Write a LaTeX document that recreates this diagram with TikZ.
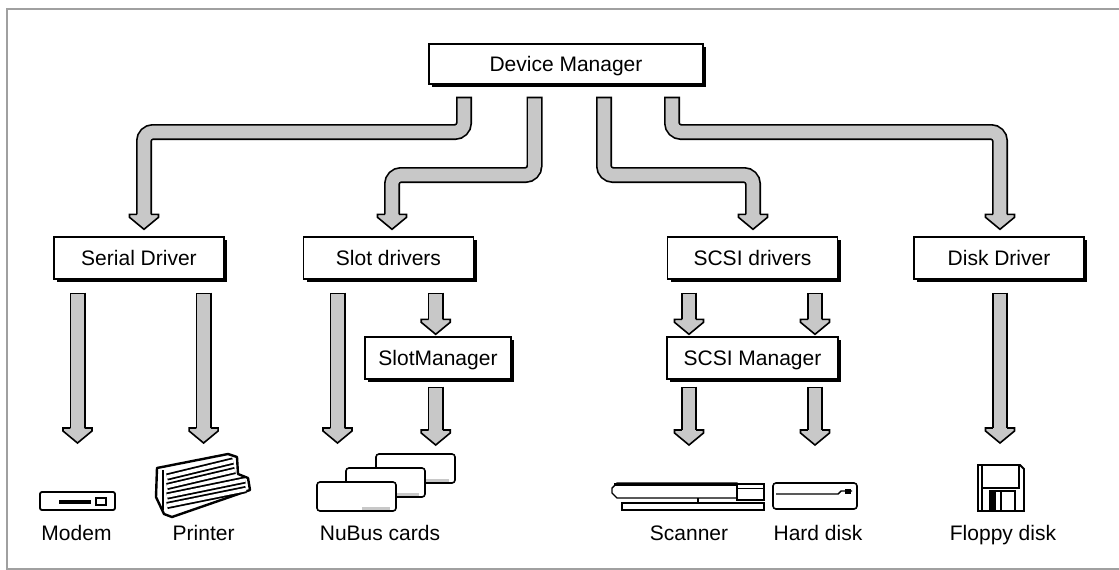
\documentclass[tikz,border=0pt]{standalone}
\usepackage{fontspec}
\setmainfont{Liberation Sans}
\usetikzlibrary{calc,shadows}
\definecolor{pipegray}{RGB}{200,200,200}
\definecolor{framegray}{RGB}{160,160,160}
\tikzset{
  box/.style={draw, line width=1.4pt, fill=white, inner sep=0pt, minimum height=42pt,
    text height=15pt, text depth=0pt, font=\fontsize{21}{25}\selectfont,
    drop shadow={shadow xshift=3pt, shadow yshift=-3pt, fill=black, opacity=1}},
  lbl/.style={inner sep=0pt, anchor=base, font=\fontsize{21}{25}\selectfont},
  icon/.style={line width=1.4pt, fill=white},
  pipe/.style={draw=pipegray, line width=12.6pt, rounded corners=9pt,
    shorten <=1.7pt, shorten >=13pt,
    preaction={draw=black, line width=16pt, shorten <=0pt}},
  head/.pic={
    \fill[pipegray] (-14.5,-15) -- (14.5,-15) -- (14.5,-12) -- (0,0) -- (-14.5,-12) -- cycle;
    \draw[line width=1.6pt, line join=miter] (-7.2,-15) -- (-14.5,-15) -- (-14.5,-12)
      -- (0,0) -- (14.5,-12) -- (14.5,-15) -- (7.2,-15);
  }
}

\begin{document}
\begin{tikzpicture}[x=1pt, y=-1pt]
  \useasboundingbox (0,0) rectangle (1119,570);
  \draw[framegray, line width=2pt] (1119,9) -- (6.5,9) -- (6.5,569) -- (1119,569);

  % managers and drivers
  \node[box, minimum width=274pt, minimum height=40pt] (dm) at (566,64) {Device Manager};
  \node[box, minimum width=170pt] (serial) at (139,258) {Serial Driver};
  \node[box, minimum width=170pt] (slot) at (388.5,258) {Slot drivers};
  \node[box, minimum width=170pt] (scsi) at (752.5,258) {SCSI drivers};
  \node[box, minimum width=170pt] (disk) at (999,258) {Disk Driver};
  \node[box, minimum width=146pt] (slotmgr) at (438,358) {SlotManager};
  \node[box, minimum width=171pt] (scsimgr) at (752.5,358) {SCSI Manager};

  % devices
  \node[lbl] (modem) at (76.5,540) {Modem};
  \node[lbl] (printer) at (203.6,540) {Printer};
  \node[lbl] (nubus) at (380,540) {NuBus cards};
  \node[lbl] (scanner) at (689,540) {Scanner};
  \node[lbl] (hdisk) at (818,540) {Hard disk};
  \node[lbl] (floppy) at (1003,540) {Floppy disk};

  \coordinate (modem-in) at (77.5,443);
  \coordinate (printer-in) at (203.6,443);
  \coordinate (nubus-in) at (337.5,443);
  \coordinate (cards-in) at (435.7,445);
  \coordinate (scanner-in) at (689,445);
  \coordinate (hdisk-in) at (815,445);
  \coordinate (floppy-in) at (1000,443);

  % pipes from the Device Manager
  \draw[pipe] ($(dm.south -| 464,0)+(0,12)$) -- (464,132) -- (144,132)
    -- ($(serial.north -| 144,0)+(0,-7)$) coordinate (h1);
  \draw[pipe] ($(dm.south -| 534.5,0)+(0,12)$) -- (534.5,175) -- (392,175)
    -- ($(slot.north -| 392,0)+(0,-7)$) coordinate (h2);
  \draw[pipe] ($(dm.south -| 604,0)+(0,12)$) -- (604,175) -- (753,175)
    -- ($(scsi.north -| 753,0)+(0,-7)$) coordinate (h3);
  \draw[pipe] ($(dm.south -| 672,0)+(0,12)$) -- (672,132) -- (1000,132)
    -- ($(disk.north -| 1000,0)+(0,-7)$) coordinate (h4);

  % pipes to the devices
  \draw[pipe] ($(serial.south -| 77.5,0)+(0,13)$) -- (modem-in) coordinate (h5);
  \draw[pipe] ($(serial.south -| 203.6,0)+(0,13)$) -- (printer-in) coordinate (h6);
  \draw[pipe] ($(slot.south -| 337.5,0)+(0,13)$) -- (nubus-in) coordinate (h7);
  \draw[pipe] ($(slot.south -| 435.7,0)+(0,13)$) -- ($(slotmgr.north -| 435.7,0)+(0,-2)$) coordinate (h8);
  \draw[pipe] ($(slotmgr.south -| 435.7,0)+(0,7)$) -- (cards-in) coordinate (h9);
  \draw[pipe] ($(scsi.south -| 689,0)+(0,13)$) -- ($(scsimgr.north -| 689,0)+(0,-2)$) coordinate (h10);
  \draw[pipe] ($(scsi.south -| 815,0)+(0,13)$) -- ($(scsimgr.north -| 815,0)+(0,-2)$) coordinate (h11);
  \draw[pipe] ($(scsimgr.south -| 689,0)+(0,7)$) -- (scanner-in) coordinate (h12);
  \draw[pipe] ($(scsimgr.south -| 815,0)+(0,7)$) -- (hdisk-in) coordinate (h13);
  \draw[pipe] ($(disk.south -| 1000,0)+(0,13)$) -- (floppy-in) coordinate (h14);
  \foreach \i in {1,...,14} \pic at (h\i) {head};

  % modem
  \draw[icon, line width=1.8pt, rounded corners=2pt] (40,492) rectangle (115,510);
  \fill (59,500) rectangle (91,504);
  \draw[line width=1.2pt] (96,498) rectangle (106,505);

  % printer
  \draw[icon, line width=2.4pt, line join=round] (157,468) -- (228,454) -- (237,457) -- (238,474)
    -- (248,478) -- (250,490) -- (172,517) -- (164,514) -- (156,497) -- cycle;
  \foreach \k/\e in {0/233,1/235,2/245,3/246}
    \draw[line width=1.8pt, double=white, double distance=3.5pt] (167,477+9.5*\k) -- (\e,461+9.5*\k);
  \draw[line width=1.6pt] (163,470) -- (163,510);

  % nubus cards
  \foreach \dx/\dy in {59/-28,29/-14,0/0} {
    \draw[icon, line width=1.6pt, rounded corners=3pt] (317+\dx,482+\dy) rectangle ++(79,29);
    \fill[pipegray] (362+\dx,507+\dy) rectangle ++(28,3);
  }

  % scanner
  \draw[icon] (617,483) -- (737,483) -- (737,498) -- (617,498) -- (612,493) -- (612,488) -- cycle;
  \draw[line width=3pt] (614,484) -- (737,484);
  \draw[icon] (737,484) rectangle (764,500);
  \draw[line width=1pt] (737,488.5) -- (764,488.5);
  \draw[icon] (622,503) rectangle (764,510);
  \draw[line width=1.4pt] (698,498) -- (698,503);

  % hard disk
  \draw[icon, line width=1.6pt, rounded corners=3pt] (773,483) rectangle (857,509);
  \draw[line width=1.4pt] (776,494) -- (838,494) -- (841,491) -- (852,491);
  \fill (845,489) rectangle (851,494);

  % floppy disk
  \draw[icon, line width=1.8pt] (978,465) -- (1020,465) -- (1024,469) -- (1024,511) -- (978,511) -- cycle;
  \draw[line width=1.2pt] (982,465) -- (982,511);
  \draw[line width=1.2pt] (982,488) -- (1019,488) -- (1019,465);
  \draw[line width=1.2pt] (990,511) -- (990,491) -- (1015,491) -- (1015,511);
  \fill (991,491) rectangle (996,511);
  \draw[line width=1.2pt] (1001,491) -- (1001,511);
\end{tikzpicture}
\end{document}
